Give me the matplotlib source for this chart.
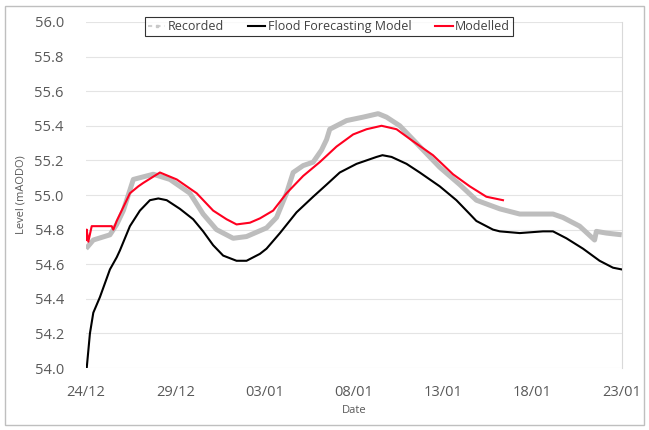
import numpy as np
import matplotlib
matplotlib.use("Agg")
import matplotlib.pyplot as plt
import matplotlib.dates as mdates
from matplotlib.patches import Rectangle
from matplotlib.lines import Line2D

start_date = np.datetime64("2015-12-24T00:00")

# Recorded (days since 24/12, level)
rec_days = [0.0, 0.41, 1.34, 1.72, 2.09, 2.65, 3.77, 4.70, 5.82, 6.56, 7.31, 8.24, 8.99, 10.11,
            10.67, 11.23, 11.60, 12.16, 12.72, 13.19, 13.47, 13.65, 14.59, 15.52, 16.36, 16.83,
            17.57, 18.69, 19.81, 20.93, 21.86, 23.17, 24.29, 26.15, 26.71, 27.64, 28.48, 28.58,
            29.14, 30.0]
rec_vals = [54.69, 54.74, 54.77, 54.83, 54.91, 55.09, 55.12, 55.09, 55.01, 54.89, 54.80, 54.75,
            54.76, 54.81, 54.87, 55.01, 55.13, 55.17, 55.19, 55.26, 55.32, 55.38, 55.43, 55.45,
            55.47, 55.45, 55.40, 55.28, 55.16, 55.06, 54.97, 54.92, 54.89, 54.89, 54.87, 54.82,
            54.74, 54.79, 54.78, 54.77]

# Flood Forecasting Model
ffm_days = [0.04, 0.22, 0.41, 0.78, 1.34, 1.72, 1.90, 2.46, 3.02, 3.58, 4.05, 4.52, 5.26, 6.00,
            6.56, 7.12, 7.68, 8.43, 8.99, 9.74, 10.11, 10.86, 11.79, 12.72, 13.47, 14.21, 15.15,
            16.27, 16.60, 17.11, 17.95, 18.69, 19.81, 20.74, 21.49, 21.86, 22.79, 23.17, 24.29,
            25.59, 26.15, 26.90, 27.83, 28.76, 29.51, 30.0]
ffm_vals = [54.00, 54.20, 54.32, 54.41, 54.57, 54.64, 54.68, 54.82, 54.91, 54.97, 54.98, 54.97,
            54.92, 54.86, 54.79, 54.71, 54.65, 54.62, 54.62, 54.66, 54.69, 54.78, 54.90, 54.99,
            55.06, 55.13, 55.18, 55.22, 55.23, 55.22, 55.18, 55.13, 55.05, 54.97, 54.89, 54.85,
            54.80, 54.79, 54.78, 54.79, 54.79, 54.75, 54.69, 54.62, 54.58, 54.57]

# Modelled
mod_days = [0.0, 0.04, 0.13, 0.32, 1.44, 1.53, 1.72, 2.46, 2.93, 3.21, 4.14, 5.08, 6.20, 7.12,
            7.87, 8.43, 9.18, 9.74, 10.48, 11.23, 12.16, 13.09, 14.03, 14.96, 15.71, 16.55,
            17.39, 18.32, 19.43, 20.55, 21.49, 22.42, 23.35]
mod_vals = [54.74, 54.80, 54.73, 54.82, 54.82, 54.80, 54.85, 55.01, 55.05, 55.07, 55.13, 55.09,
            55.01, 54.91, 54.86, 54.83, 54.84, 54.865, 54.91, 55.01, 55.11, 55.19, 55.28, 55.35,
            55.38, 55.40, 55.38, 55.31, 55.23, 55.12, 55.05, 54.99, 54.97]

tick_days = [0, 5, 10, 15, 20, 25, 30]
y_ticks = [54.0, 54.2, 54.4, 54.6, 54.8, 55.0, 55.2, 55.4, 55.6, 55.8, 56.0]


def to_dates(days):
    mins = (np.asarray(days) * 24 * 60).round().astype("timedelta64[m]")
    return start_date + mins


plt.rcParams["font.family"] = ["Open Sans", "DejaVu Sans"]

fig = plt.figure(figsize=(6.49, 4.30), dpi=100)
ax = fig.add_axes([0.1325, 0.144, 0.8255, 0.805])

ax.plot(to_dates(rec_days), rec_vals, color="#bdbdbd", lw=3.6, solid_joinstyle="round",
        solid_capstyle="butt", zorder=2)
ax.plot(to_dates(ffm_days), ffm_vals, color="black", lw=1.5, solid_joinstyle="round", zorder=3)
ax.plot(to_dates(mod_days), mod_vals, color="#ff0020", lw=1.5, solid_joinstyle="round", zorder=4)

ax.set_ylim(54.0, 56.0)
ax.set_yticks(y_ticks)
ax.set_yticklabels([f"{v:.1f}" for v in y_ticks])
ax.set_xlim(to_dates([0])[0], to_dates([30])[0])
ax.set_xticks(to_dates(tick_days))
ax.xaxis.set_major_formatter(mdates.DateFormatter("%d/%m"))

ax.grid(axis="y", color="#e4e4e4", lw=0.8, zorder=0)
ax.tick_params(axis="both", length=0, labelsize=10.5, colors="#595959")
ax.tick_params(axis="y", pad=16)
ax.tick_params(axis="x", pad=12)
for s in ["left", "top", "bottom"]:
    ax.spines[s].set_visible(False)
ax.spines["right"].set_color("#d9d9d9")
ax.spines["right"].set_linewidth(0.8)

ax.set_xlabel("Date", fontsize=8, color="#595959", labelpad=4)
ax.set_ylabel("Level (mAODO)", fontsize=8, color="#595959", labelpad=6)

handles = [
    Line2D([0], [0], color="#d0d0d0", lw=1.5, ls=(0, (2, 2)), marker="s", markersize=2,
           markerfacecolor="#c8c8c8", markeredgecolor="#c8c8c8"),
    Line2D([0], [0], color="black", lw=1.5),
    Line2D([0], [0], color="#ff0020", lw=1.5),
]
leg = fig.legend(handles, ["Recorded", "Flood Forecasting Model", "Modelled"],
                 loc="upper center", bbox_to_anchor=(0.507, 0.975), ncol=3,
                 frameon=True, fancybox=False, fontsize=9, handlelength=1.4,
                 handletextpad=0.2, columnspacing=1.9, borderpad=0.25,
                 labelcolor="#404040")
leg.get_frame().set_edgecolor("black")
leg.get_frame().set_linewidth(0.8)

fig.patches.append(Rectangle((5 / 649, 5 / 430), 639 / 649, 419 / 430,
                             transform=fig.transFigure, fill=False,
                             edgecolor="#bfbfbf", lw=1.0))

fig.savefig("out.png", dpi=100)
